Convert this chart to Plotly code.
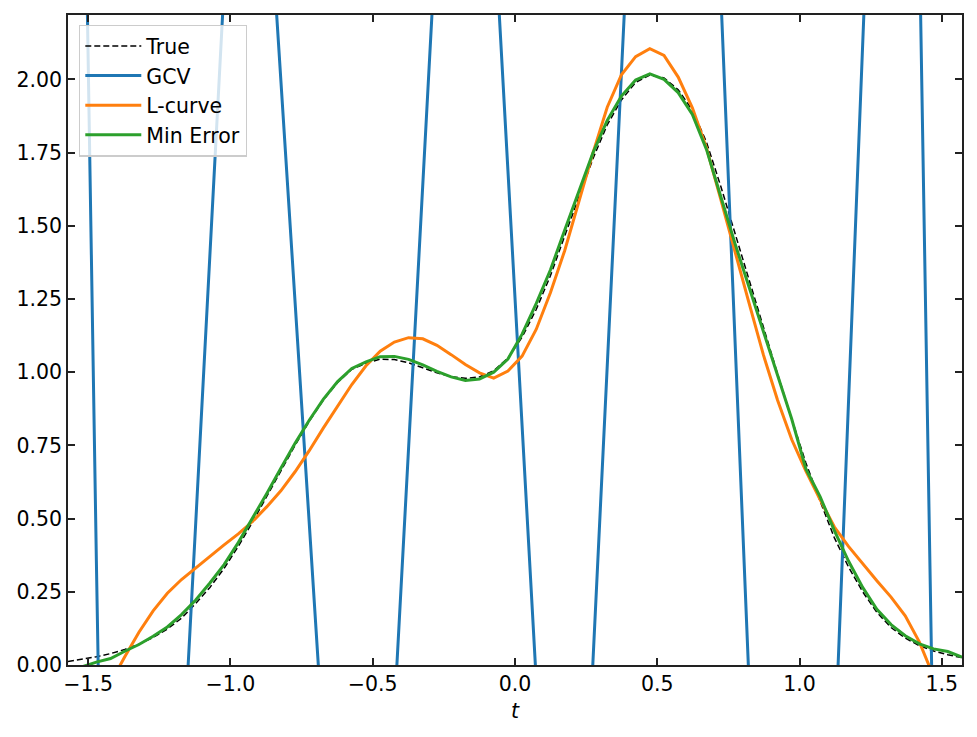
import plotly.graph_objects as go

# sample grid t (64 points on [-pi/2, pi/2])
t = [-1.5708, -1.5209, -1.4711, -1.4212, -1.3713, -1.3215, -1.2716, -1.2217,
     -1.1719, -1.1220, -1.0721, -1.0223, -0.9724, -0.9225, -0.8727, -0.8228,
     -0.7729, -0.7231, -0.6732, -0.6233, -0.5735, -0.5236, -0.4737, -0.4239,
     -0.3740, -0.3241, -0.2743, -0.2244, -0.1745, -0.1247, -0.0748, -0.0249,
     0.0249, 0.0748, 0.1247, 0.1745, 0.2244, 0.2743, 0.3241, 0.3740,
     0.4239, 0.4737, 0.5236, 0.5735, 0.6233, 0.6732, 0.7231, 0.7729,
     0.8228, 0.8727, 0.9225, 0.9724, 1.0223, 1.0721, 1.1220, 1.1719,
     1.2217, 1.2716, 1.3215, 1.3713, 1.4212, 1.4711, 1.5209, 1.5708]

true_vals = [0.012, 0.020, 0.028, 0.039, 0.053, 0.071, 0.094, 0.123,
             0.160, 0.210, 0.265, 0.330, 0.405, 0.488, 0.575, 0.664,
             0.750, 0.832, 0.905, 0.965, 1.010, 1.030, 1.045, 1.043,
             1.032, 1.015, 0.998, 0.985, 0.979, 0.984, 1.005, 1.048,
             1.120, 1.215, 1.330, 1.465, 1.600, 1.730, 1.845, 1.930,
             1.990, 2.015, 2.005, 1.965, 1.895, 1.785, 1.635, 1.475,
             1.310, 1.150, 0.995, 0.840, 0.690, 0.560, 0.435, 0.335,
             0.250, 0.180, 0.128, 0.092, 0.066, 0.048, 0.035, 0.025]

gcv_vals = [8.0, 3.31, 0.356, -2.62, -6.0, -8.0, -7.5, -4.5,
            -0.426, 0.484, 1.400, 2.317, 4.0, 4.2, 2.754, 1.996,
            1.244, 0.486, -0.272, -2.0, -3.0, -2.8, -1.059, -0.159,
            0.742, 1.643, 2.537, 4.5, 5.5, 4.8, 2.565, 1.690,
            0.814, -0.056, -1.8, -2.2, -0.983, 0.021, 1.025, 2.022,
            3.026, 5.0, 6.0, 6.2, 5.3, 3.467, 2.295, 1.114,
            -0.067, -1.8, -3.5, -4.5, -4.2, -2.8, -0.328, 0.898,
            2.116, 3.343, 6.5, 6.0, 2.462, -0.404, -4.0, -9.0]

lcurve_vals = [-0.45, -0.30, -0.17, -0.06, 0.028, 0.112, 0.185, 0.245,
               0.292, 0.332, 0.372, 0.410, 0.448, 0.490, 0.540, 0.595,
               0.660, 0.732, 0.810, 0.885, 0.958, 1.022, 1.072, 1.103,
               1.118, 1.114, 1.092, 1.060, 1.026, 0.998, 0.980, 1.004,
               1.055, 1.147, 1.272, 1.415, 1.580, 1.750, 1.905, 2.016,
               2.078, 2.105, 2.082, 2.008, 1.903, 1.765, 1.590, 1.410,
               1.235, 1.060, 0.905, 0.770, 0.662, 0.565, 0.472, 0.405,
               0.345, 0.288, 0.232, 0.168, 0.078, -0.04, -0.20, -0.40]

minerr_vals = [-0.030, -0.006, 0.010, 0.022, 0.047, 0.070, 0.098, 0.130,
               0.172, 0.222, 0.280, 0.343, 0.418, 0.500, 0.585, 0.672,
               0.757, 0.836, 0.908, 0.968, 1.013, 1.035, 1.053, 1.054,
               1.044, 1.025, 1.003, 0.984, 0.972, 0.977, 1.000, 1.045,
               1.130, 1.235, 1.350, 1.485, 1.620, 1.750, 1.860, 1.943,
               1.998, 2.019, 2.000, 1.955, 1.880, 1.760, 1.600, 1.440,
               1.290, 1.140, 0.990, 0.840, 0.670, 0.575, 0.460, 0.355,
               0.265, 0.190, 0.138, 0.100, 0.072, 0.055, 0.046, 0.027]

x_ticks = [-1.5, -1.0, -0.5, 0.0, 0.5, 1.0, 1.5]
y_ticks = [0.0, 0.25, 0.5, 0.75, 1.0, 1.25, 1.5, 1.75, 2.0]

FONT = "DejaVu Sans"
FS = 20.5
AXC = "#222222"

fig = go.Figure()
fig.add_trace(go.Scatter(x=t, y=true_vals, mode="lines", name="True",
                         line=dict(color="black", width=1.5, dash="6px,3px")))
fig.add_trace(go.Scatter(x=t, y=gcv_vals, mode="lines", name="GCV",
                         line=dict(color="#1f77b4", width=3)))
fig.add_trace(go.Scatter(x=t, y=lcurve_vals, mode="lines", name="L-curve",
                         line=dict(color="#ff7f0e", width=3)))
fig.add_trace(go.Scatter(x=t, y=minerr_vals, mode="lines", name="Min Error",
                         line=dict(color="#2ca02c", width=3)))

axis_common = dict(showline=True, linecolor=AXC, linewidth=1.6, mirror="ticks",
                   ticks="inside", ticklen=7, tickwidth=1.6, tickcolor=AXC,
                   showgrid=False, zeroline=False,
                   tickfont=dict(family=FONT, size=FS, color="black"))

fig.update_layout(
    width=977, height=737,
    margin=dict(l=68, r=15, t=15, b=71.5),
    paper_bgcolor="white", plot_bgcolor="white",
    font=dict(family=FONT, size=FS, color="black"),
    xaxis=dict(range=[-1.5708, 1.5708], tickvals=x_ticks,
               ticktext=[f"{v:.1f}".replace("-", "\u2212") for v in x_ticks],
               title=dict(text="<i>t</i>", font=dict(family=FONT, size=FS), standoff=8),
               **axis_common),
    yaxis=dict(range=[0, 2.22], tickvals=y_ticks,
               ticktext=[f"{v:.2f}" for v in y_ticks],
               **axis_common),
    legend=dict(x=0.0123, y=0.985, xanchor="left", yanchor="top",
                bgcolor="rgba(255,255,255,0.8)", bordercolor="#cccccc", borderwidth=1.3,
                font=dict(family=FONT, size=FS), tracegroupgap=0, itemwidth=56),
    showlegend=True,
)

fig.write_html("out.html")
